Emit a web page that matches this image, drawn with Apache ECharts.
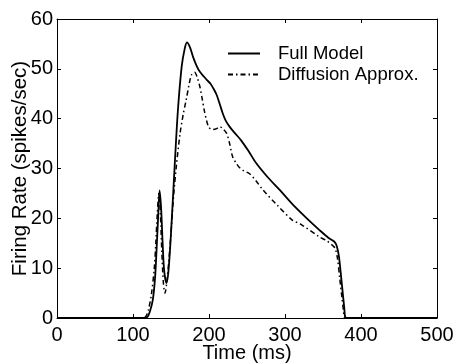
<!DOCTYPE html>
<html>
<head>
<meta charset="utf-8">
<script src="https://cdn.jsdelivr.net/npm/echarts@6/dist/echarts.min.js"></script>
<style>html,body{margin:0;padding:0;background:#fff}#c{width:454px;height:364px}</style>
</head>
<body>
<div id="c"></div>
<script>
const xTicks = [0, 100, 200, 300, 400, 500];
const yTicks = [0, 10, 20, 30, 40, 50, 60];
const seriesNames = ['Full Model', 'Diffusion Approx.'];

const fullT = [0,100,115,119,122,126,129,131,133,135,137,139,141,144,147,151,155,159,164,168,171,175,179,184,188,193,197,202,206,210,214,218,222,227,234,242,252,262,277,293,310,328,345,357,365,368,371,374,376,378,379,381,400,500];
const fullV = [0,0,0,0.2,1.2,3.6,8,13.7,20,25.6,22,15,9.5,7,10,19.7,31,41.5,50.4,54,55.3,54.3,52.4,50.5,49.4,48.5,47.8,47,46,44.8,43,41.1,39.6,38.4,37.1,35.7,33.5,31.1,28.3,25.7,22.8,20.1,17.7,16.1,15.3,14.5,12.3,8,5,2,0.3,0,0,0];

const diffT = [0,100,113,117,120,124,128,130,132,134,136,138,140,142,145,149,153,157,162,166,170,174,177,181,184,188,191,194,197,200,205,210,214,218,223,227,231,236,240,246,253,262,271,290,310,320,345,355,363,366,369,372,375,377,379,400,500];
const diffV = [0,0,0,0.3,1.5,4.5,10,15,21,25,21,13,7,5,8,15,23.7,30.4,37.1,40.8,43.8,47,48.8,49.3,48.5,46.4,44,41.5,39.5,38.2,37.8,38,38.4,38,37.1,35.1,32.4,31,30.2,29.5,29,27.5,25.7,22.6,19.6,18.9,16.3,15.5,14.5,14,12,8,4,1.5,0,0,0];

const zip = (a, b) => a.map((t, i) => [t, b[i]]);
const font = 'Liberation Sans, Arial, Helvetica, sans-serif';

const chart = echarts.init(document.getElementById('c'), null, {renderer: 'canvas'});
const axisCommon = {
  type: 'value',
  axisLine: {show: true, onZero: false, lineStyle: {color: '#000', width: 1}},
  axisTick: {show: true, inside: true, length: 4, lineStyle: {color: '#000', width: 1}},
  splitLine: {show: false}
};
chart.setOption({
  animation: false,
  backgroundColor: '#fff',
  grid: {left: 57, right: 17, top: 19, bottom: 46, containLabel: false, outerBoundsMode: 'none'},
  legend: {
    orient: 'vertical', left: 222, top: 39, itemWidth: 32, itemHeight: 12, itemGap: 2,
    itemStyle: {opacity: 0},
    textStyle: {fontFamily: font, fontSize: 18.5, color: '#000', padding: [0, 0, 0, 13]},
    data: seriesNames
  },
  xAxis: [
    Object.assign({}, axisCommon, {
      min: xTicks[0], max: xTicks[xTicks.length - 1], interval: 100, position: 'bottom',
      name: 'Time (ms)', nameLocation: 'middle', nameGap: 25, nameMoveOverlap: false,
      nameTextStyle: {fontFamily: font, fontSize: 20, color: '#000'},
      axisLabel: {fontFamily: font, fontSize: 20, color: '#000', margin: 7}
    }),
    Object.assign({}, axisCommon, {
      min: xTicks[0], max: xTicks[xTicks.length - 1], interval: 100, position: 'top',
      axisLabel: {show: false}
    })
  ],
  yAxis: [
    Object.assign({}, axisCommon, {
      min: yTicks[0], max: yTicks[yTicks.length - 1], interval: 10, position: 'left',
      name: 'Firing Rate (spikes/sec)', nameLocation: 'middle', nameGap: 26, nameMoveOverlap: false,
      nameTextStyle: {fontFamily: font, fontSize: 20.5, color: '#000'},
      axisLabel: {fontFamily: font, fontSize: 20, color: '#000', margin: 4}
    }),
    Object.assign({}, axisCommon, {
      min: yTicks[0], max: yTicks[yTicks.length - 1], interval: 10, position: 'right',
      axisLabel: {show: false}
    })
  ],
  series: [
    {
      name: seriesNames[0], type: 'line', data: zip(fullT, fullV), symbol: 'none', smooth: 0.3,
      xAxisIndex: 0, yAxisIndex: 0,
      lineStyle: {color: '#000', width: 1.8}, itemStyle: {color: '#000'}
    },
    {
      name: seriesNames[1], type: 'line', data: zip(diffT, diffV), symbol: 'none', smooth: 0.3,
      xAxisIndex: 0, yAxisIndex: 0,
      lineStyle: {color: '#000', width: 1.5, type: [5, 3, 1.5, 3]}, itemStyle: {color: '#000'}
    }
  ]
});
</script>
</body>
</html>
